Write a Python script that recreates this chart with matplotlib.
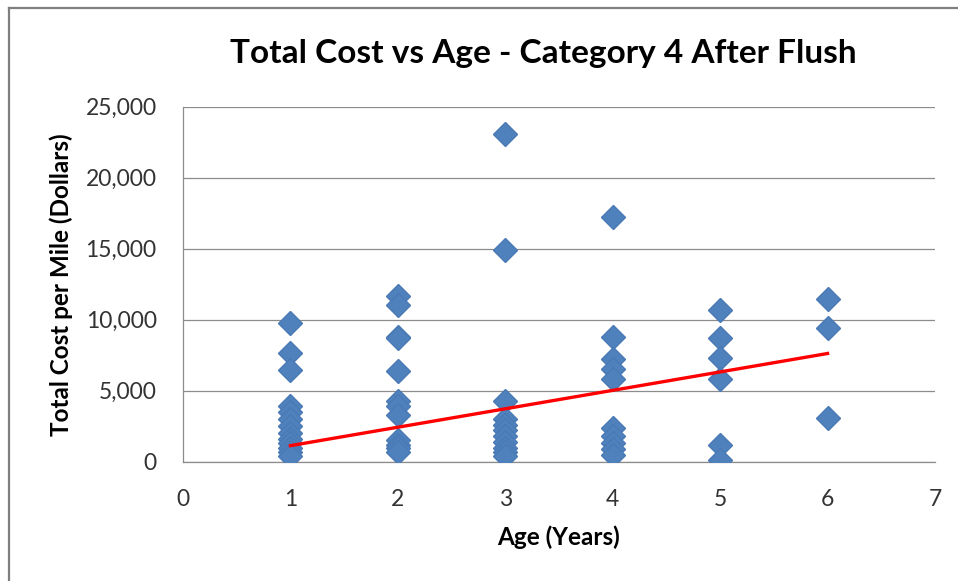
import matplotlib

matplotlib.use("Agg")
import matplotlib.pyplot as plt
from matplotlib.lines import Line2D
from matplotlib.ticker import FuncFormatter, MultipleLocator

# cost per mile by pipe age (years)
age_1 = [9800, 7650, 6450, 3950, 3500, 3000, 2500, 2000, 1600, 1300, 1000, 700, 400]
age_2 = [11650, 11000, 8800, 8700, 6400, 4300, 3900, 3300, 1500, 1200, 950, 700]
age_3 = [23100, 14900, 4300, 3000, 2600, 2200, 1800, 1400, 1000, 700, 400]
age_4 = [17250, 8750, 7200, 6500, 5800, 2400, 1800, 1300, 900, 500]
age_5 = [10650, 8700, 7300, 5850, 1200, 150]
age_6 = [11450, 9400, 3100]
ages = [1, 2, 3, 4, 5, 6]

# linear trendline end points
trend_x = [1, 6]
trend_y = [1130, 7620]

groups = [age_1, age_2, age_3, age_4, age_5, age_6]
xs = [a for a, g in zip(ages, groups) for _ in g]
ys = [v for g in groups for v in g]

plt.rcParams["font.family"] = ["Lato", "DejaVu Sans"]

fig = plt.figure(figsize=(9.58, 5.81), dpi=100)
ax = fig.add_axes([183 / 958, 1 - 461.7 / 581, (935 - 183) / 958, (461.7 - 106.7) / 581])

ax.plot(xs, ys, linestyle="none", marker="D", markersize=12,
        color="#4F81BD", markeredgecolor="#4A7AB5", zorder=3)
ax.plot(trend_x, trend_y, color="#FF0000", linewidth=2.4, zorder=4)

ax.set_xlim(0, 7)
ax.set_ylim(0, 25000)
ax.xaxis.set_major_locator(MultipleLocator(1))
ax.yaxis.set_major_locator(MultipleLocator(5000))
ax.yaxis.set_major_formatter(FuncFormatter(lambda v, _: f"{v:,.0f}"))

ax.grid(axis="y", color="#8C8C8C", linewidth=0.9)
ax.set_axisbelow(True)
for side in ("top", "right"):
    ax.spines[side].set_visible(False)
for side in ("left", "bottom"):
    ax.spines[side].set_color("#8C8C8C")
    ax.spines[side].set_linewidth(0.9)

ax.tick_params(axis="both", length=0, labelsize=16.5, labelcolor="#333333")
ax.tick_params(axis="y", pad=19)
ax.tick_params(axis="x", pad=20)

ax.set_xlabel("Age (Years)", fontsize=17.5, fontweight="bold", labelpad=11)
ax.set_ylabel("Total Cost per Mile (Dollars)", fontsize=17.5, fontweight="bold", labelpad=9)

fig.text(543 / 958, 1 - 53 / 581, "Total Cost vs Age - Category 4 After Flush",
         ha="center", va="center", fontsize=24, fontweight="bold")

# chart area frame (top and left edges)
fig.add_artist(Line2D([9 / 958, 9 / 958], [0, 1 - 8 / 581], transform=fig.transFigure,
                      color="#7F7F7F", linewidth=1.6))
fig.add_artist(Line2D([9 / 958, 1], [1 - 8 / 581, 1 - 8 / 581], transform=fig.transFigure,
                      color="#7F7F7F", linewidth=1.6))

fig.savefig("out.png", dpi=100)
